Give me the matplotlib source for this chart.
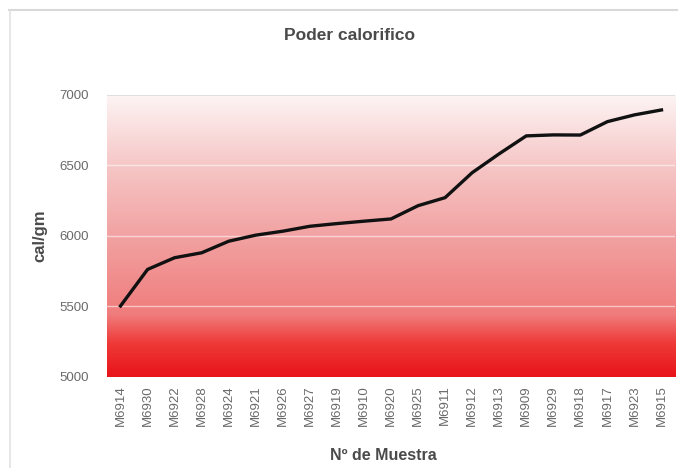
import numpy as np
import matplotlib
matplotlib.use("Agg")
import matplotlib.pyplot as plt
from matplotlib.colors import LinearSegmentedColormap
from matplotlib.lines import Line2D

samples = ["M6914", "M6930", "M6922", "M6928", "M6924", "M6921", "M6926",
           "M6927", "M6919", "M6910", "M6920", "M6925", "M6911", "M6912",
           "M6913", "M6909", "M6929", "M6918", "M6917", "M6923", "M6915"]
values = [5504, 5763, 5846, 5881, 5963, 6006, 6034, 6069, 6088, 6105, 6121,
          6215, 6272, 6449, 6583, 6710, 6717, 6716, 6811, 6859, 6894]
yticks = [5000, 5500, 6000, 6500, 7000]

plt.rcParams['font.family'] = ['Liberation Sans', 'DejaVu Sans']

fig = plt.figure(figsize=(6.78, 4.68), dpi=100)
fig.patch.set_facecolor('white')

# faint outer frame (top and left edges)
fig.add_artist(Line2D([9/678, 1.0], [1-10/468, 1-10/468], transform=fig.transFigure,
                      color='#d8d8d8', lw=1.5))
fig.add_artist(Line2D([10/678, 10/678], [1-10/468, 0.0], transform=fig.transFigure,
                      color='#e2e2e2', lw=1.2))

ax = fig.add_axes([107/678, 1-377/468, (675-107)/678, (377-95)/468])

n = len(samples)
x = np.arange(n)
ax.set_xlim(-0.5, n - 0.5)
ax.set_ylim(5000, 7000)

# gradient background
cmap = LinearSegmentedColormap.from_list('bg', [
    (0.0, '#e8141a'),
    (0.12, '#ee3a38'),
    (0.22, '#f07c7c'),
    (0.5, '#f2a2a2'),
    (0.75, '#f6c6c6'),
    (1.0, '#fdf4f4')])
grad = np.linspace(0, 1, 256).reshape(-1, 1)
ax.imshow(grad, aspect='auto', cmap=cmap, origin='lower',
          extent=(-0.5, n - 0.5, 5000, 7000), zorder=0)

for yv in yticks[1:-1]:
    ax.axhline(yv, color='white', lw=1.0, alpha=0.55, zorder=1)
ax.axhline(7000, color='#d9d9d9', lw=1.2, zorder=1)

ax.plot(x, values, color='#111111', lw=2.4, solid_joinstyle='round', zorder=3)

ax.set_yticks(yticks)
ax.set_yticklabels([str(v) for v in yticks])
ax.set_xticks(x)
ax.set_xticklabels(samples, rotation=90)
ax.tick_params(axis='both', length=0, colors='#6a6a6a', labelsize=9.5)
ax.tick_params(axis='y', pad=13)
ax.tick_params(axis='x', pad=6)
for s in ax.spines.values():
    s.set_visible(False)

fig.text(350/678, 1-36/468, 'Poder calorifico', ha='center', va='center',
         fontsize=12.5, fontweight='bold', color='#4a4a4a')
fig.text(40/678, 1-236/468, 'cal/gm', ha='center', va='center', rotation=90,
         fontsize=12, fontweight='bold', color='#4a4a4a')
fig.text(383/678, 1-455/468, 'Nº de Muestra', ha='center', va='center',
         fontsize=11.5, fontweight='bold', color='#4a4a4a')

fig.savefig('out.png', dpi=100)
